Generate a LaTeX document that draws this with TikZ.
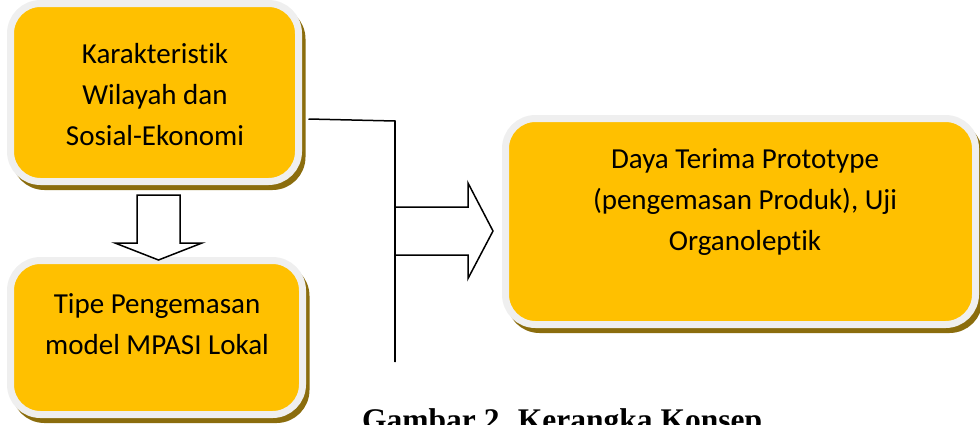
\documentclass[tikz,border=0pt]{standalone}
\usepackage{fontspec}
\setmainfont{Carlito}[Ligatures=NoCommon]
\newfontfamily\capfont{Liberation Serif}
\definecolor{boxyellow}{HTML}{FFC000}
\definecolor{boxgrey}{HTML}{EFEFEF}
\definecolor{shadowc}{HTML}{8B6D0D}
\begin{document}
\begin{tikzpicture}[x=1pt,y=-1pt,
  boxst/.style={rectangle, rounded corners=30pt, fill=boxyellow, draw=boxgrey,
    line width=7pt, inner sep=0pt,
    preaction={draw=shadowc, fill=shadowc, line width=6pt,
      transform canvas={shift={(4pt,-5.5pt)}}}},
  txt/.style={align=center, inner sep=0pt, font=\fontsize{29}{41}\selectfont},
  conn/.style={line width=1.5pt, black, line join=miter},
  blockarrow/.style={line width=1.5pt, black, fill=white, line join=miter}]
\useasboundingbox (0,0) rectangle (980,424);
% boxes
\node[boxst, minimum width=288pt, minimum height=178pt] (box1) at (154.5,92.5) {};
\node[boxst, minimum width=292pt, minimum height=154pt] (box2) at (156.5,337.5) {};
\node[boxst, minimum width=470pt, minimum height=206pt] (box3) at (740.5,221.5) {};
% texts
\node[txt] (t1) at (155,95) {Karakteristik\\Wilayah dan\\Sosial-Ekonomi};
\node[txt] (t2) at (157,324) {Tipe Pengemasan\\model MPASI Lokal};
\node[txt] (t3) at (745,202) {Daya Terima Prototype\\(pengemasan Produk), Uji\\Organoleptik};
% connector from box1
\coordinate (j1) at (395,121);
\coordinate (jb) at (395,362);
\draw[conn] (box1.east) ++(6.5,26.5) -- (j1) -- (jb);
% down block arrow
\coordinate (da) at (158.5,195);
\draw[blockarrow] (da) ++(-21.5,0) -- ++(0,48) -- ++(-22,0) -- ++(43.5,17)
  -- ++(43.5,-17) -- ++(-22,0) -- ++(0,-48) -- cycle;
% right block arrow
\coordinate (ra) at (395,231);
\fill[white] (ra) ++(0,-24) -- ++(73,0) -- ++(0,-24) -- ++(25,48) -- ++(-25,47.5)
  -- ++(0,-23.5) -- ++(-73,0) -- cycle;
\draw[blockarrow, fill=none] (ra) ++(0,-24) -- ++(73,0) -- ++(0,-24) -- ++(25,48)
  -- ++(-25,47.5) -- ++(0,-23.5) -- ++(-73,0);
\draw[conn] (j1) -- (jb);
% caption
\node[anchor=base west, inner sep=0pt, font=\capfont\bfseries\fontsize{31.5}{36}\selectfont] (cap) at (362,430) {Gambar 2. Kerangka Konsep};
\end{tikzpicture}
\end{document}
